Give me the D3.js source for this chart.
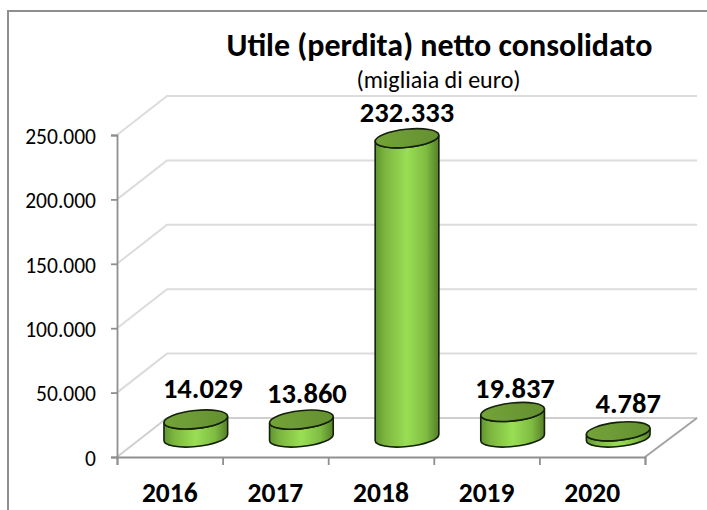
<!DOCTYPE html>
<html><head><meta charset="utf-8">
<script src="https://cdnjs.cloudflare.com/ajax/libs/d3/7.8.5/d3.min.js"></script>
<style>html,body{margin:0;padding:0;background:#fff}svg{display:block}text{font-family:Carlito,Lato,"Open Sans",sans-serif}</style>
</head><body><svg id="c" width="707" height="510"></svg>
<script>
const categories = ["2016","2017","2018","2019","2020"];
const values = [14029,13860,232333,19837,4787];
const valueLabels = ["14.029","13.860","232.333","19.837","4.787"];
const yTicks = [0,50000,100000,150000,200000,250000];
const yTickLabels = ["0","50.000","100.000","150.000","200.000","250.000"];
const titleText = "Utile (perdita) netto consolidato";
const subtitleText = "(migliaia di euro)";

const W=707,H=510;
const svg=d3.select("#c");
const x=d3.scaleBand().domain(categories).range([117,645]);
const y=d3.scaleLinear().domain([0,250000]).range([457,135]);
const depth={dx:52,dy:-39}, rx=32, ry=9, tilt=-6;

svg.append("path").attr("d",`M8,${H} V11 H${W}`).attr("fill","none").attr("stroke","#8f8f8f").attr("stroke-width",2);

const grid="#dcdcdc";
const g=svg.append("g");
const x0=x.range()[0], x1=x.range()[1];
yTicks.forEach(t=>{
  const yy=y(t);
  g.append("path").attr("d",`M${x0},${yy} L${x0+depth.dx-2},${yy+depth.dy} H${x1+depth.dx}`)
   .attr("fill","none").attr("stroke",t===0?"#cfcfcf":grid).attr("stroke-width",2);
});
g.append("line").attr("x1",x1).attr("y1",y(0)).attr("x2",x1+depth.dx).attr("y2",y(0)+depth.dy)
  .attr("stroke","#a3a3a3").attr("stroke-width",2);

const axisG="#8f8f8f";
svg.append("g").attr("transform","translate(117,0)")
  .call(d3.axisLeft(y).tickValues(yTicks).tickFormat((d,i)=>yTickLabels[i]).tickSize(6).tickPadding(15))
  .call(a=>{a.select(".domain").attr("stroke",axisG).attr("stroke-width",1.8);
    a.selectAll("line").attr("stroke",axisG).attr("stroke-width",1.8);
    a.selectAll("text").attr("fill","#000").attr("font-size",21.5).attr("font-family","Carlito,Lato,sans-serif").attr("transform","translate(0,1.5)");});
const tickPos=categories.map(c=>x(c)).concat([x1]);
svg.append("g").attr("transform","translate(0,457)")
  .call(d3.axisBottom(d3.scaleLinear().domain([117,645]).range([117,645])).tickValues(tickPos).tickFormat("").tickSize(8))
  .call(a=>{a.select(".domain").attr("stroke",axisG).attr("stroke-width",1.8);
    a.selectAll("line").attr("stroke",axisG).attr("stroke-width",1.8);});
svg.append("g").selectAll("text").data(categories).join("text")
  .attr("x",d=>x(d)+x.bandwidth()/2).attr("y",502).attr("text-anchor","middle")
  .attr("font-size",27.5).attr("font-weight",700).attr("fill","#000").text(d=>d);

const defs=svg.append("defs");
const grad=defs.append("linearGradient").attr("id","side").attr("x1",0).attr("x2",1).attr("y1",0).attr("y2",0);
[[0,"#5f9430"],[0.15,"#7bb53f"],[0.5,"#9ade55"],[0.8,"#7fbc42"],[1,"#567f28"]].forEach(s=>grad.append("stop").attr("offset",s[0]).attr("stop-color",s[1]));
const gradTop=defs.append("linearGradient").attr("id","top").attr("x1",0).attr("x2",1).attr("y1",0).attr("y2",0);
[[0,"#74a338"],[1,"#649031"]].forEach(s=>gradTop.append("stop").attr("offset",s[0]).attr("stop-color",s[1]));

const a=tilt*Math.PI/180;
function cyl(cx,yTop,yBase){
  const t=Math.atan2(-ry*Math.sin(a),rx*Math.cos(a));
  const px=rx*Math.cos(t)*Math.cos(a)-ry*Math.sin(t)*Math.sin(a);
  const py=rx*Math.cos(t)*Math.sin(a)+ry*Math.sin(t)*Math.cos(a);
  return `M${cx-px},${yTop-py} L${cx-px},${yBase-py} A${rx},${ry} ${tilt} 0 0 ${cx+px},${yBase+py} L${cx+px},${yTop+py} A${rx},${ry} ${tilt} 0 1 ${cx-px},${yTop-py} Z`;
}
const labelShift=[7,5.5,0,2.3,10];
const bars=svg.append("g").selectAll("g").data(categories).join("g");
bars.each(function(c,i){
  const s=d3.select(this);
  const cx=x(c)+x.bandwidth()/2+depth.dx/2;
  const yBase=y(0)+depth.dy/2;
  const yTop=y(values[i])+depth.dy/2;
  s.append("path").attr("d",cyl(cx,yTop,yBase)).attr("fill","url(#side)").attr("stroke","#14200a").attr("stroke-width",1.6);
  s.append("ellipse").attr("cx",cx).attr("cy",yTop).attr("rx",rx).attr("ry",ry)
    .attr("transform",`rotate(${tilt} ${cx} ${yTop})`)
    .attr("fill","url(#top)").attr("stroke","#14200a").attr("stroke-width",1.6);
});
const labelBaselines=[398,402.5,122,397.5,412.5];
svg.append("g").selectAll("text").data(categories).join("text")
  .attr("x",(c,i)=>x(c)+x.bandwidth()/2+depth.dx/2+labelShift[i])
  .attr("y",(c,i)=>labelBaselines[i])
  .attr("text-anchor","middle").attr("font-size",28.5).attr("font-weight",700).attr("fill","#000").text((c,i)=>valueLabels[i]);

svg.append("text").attr("x",439.5).attr("y",56).attr("text-anchor","middle").attr("font-size",32).attr("font-weight",700).attr("fill","#000").text(titleText);
svg.append("text").attr("x",438.5).attr("y",87.5).attr("text-anchor","middle").attr("font-size",24).attr("fill","#000").text(subtitleText);
</script></body></html>
